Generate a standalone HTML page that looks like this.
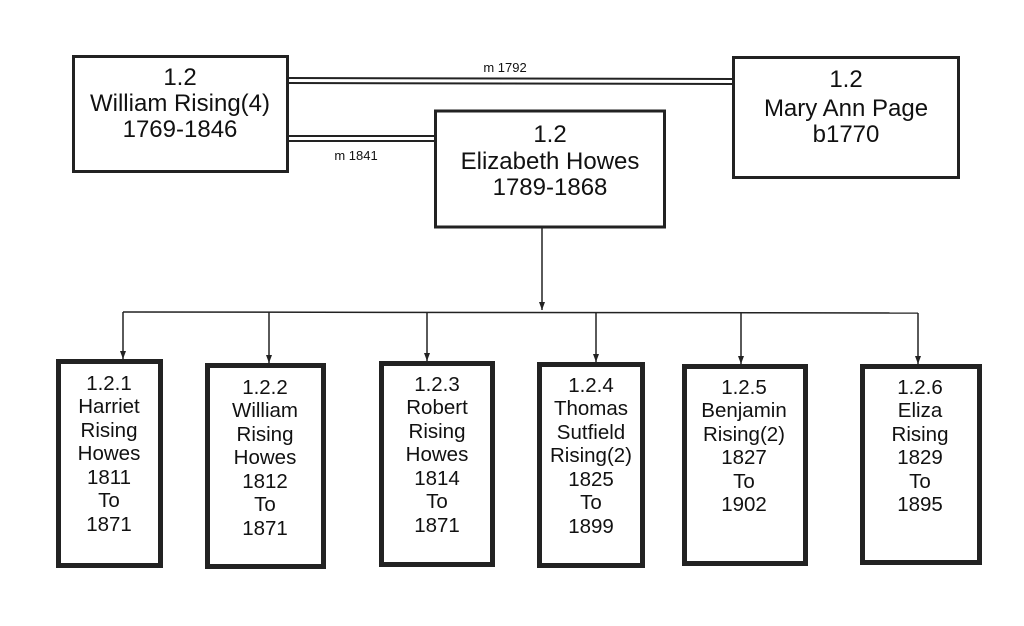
<!DOCTYPE html>
<html><head><meta charset="utf-8"><style>
html,body{margin:0;padding:0;background:#fff;}
svg{display:block;}
text{font-family:"Liberation Sans",Arial,sans-serif;fill:#111;text-anchor:middle;}
</style></head><body>
<svg width="1024" height="626" viewBox="0 0 1024 626" xmlns="http://www.w3.org/2000/svg">
<defs><marker id="a" markerWidth="9" markerHeight="8" refX="8" refY="4" orient="auto" markerUnits="userSpaceOnUse"><path d="M0,1 L8,4 L0,7 Z" fill="#222"/></marker></defs>
<g stroke="#222" fill="none">
<line x1="288" y1="78" x2="733" y2="79" stroke-width="2"/>
<line x1="288" y1="83" x2="733" y2="84" stroke-width="2"/>
<line x1="288" y1="136" x2="435" y2="136" stroke-width="2"/>
<line x1="288" y1="141" x2="435" y2="141" stroke-width="2"/>
<rect x="73.5" y="56.5" width="214" height="115" stroke-width="3"/>
<rect x="733.5" y="57.5" width="225" height="120" stroke-width="3"/>
<rect x="435.5" y="111" width="229" height="116" stroke-width="3"/>
<line x1="542" y1="228" x2="542" y2="310" stroke-width="1.5" marker-end="url(#a)"/>
<line x1="123" y1="312" x2="918" y2="313" stroke-width="1.5"/>
<line x1="123" y1="312" x2="123" y2="359" stroke-width="1.5" marker-end="url(#a)"/>
<line x1="269" y1="312" x2="269" y2="363" stroke-width="1.5" marker-end="url(#a)"/>
<line x1="427" y1="312" x2="427" y2="361" stroke-width="1.5" marker-end="url(#a)"/>
<line x1="596" y1="312" x2="596" y2="362" stroke-width="1.5" marker-end="url(#a)"/>
<line x1="741" y1="313" x2="741" y2="364" stroke-width="1.5" marker-end="url(#a)"/>
<line x1="918" y1="313" x2="918" y2="364" stroke-width="1.5" marker-end="url(#a)"/>
<rect x="58.5" y="361.5" width="102" height="204" stroke-width="5"/>
<rect x="207.5" y="365.5" width="116" height="201" stroke-width="5"/>
<rect x="381.5" y="363.5" width="111" height="201" stroke-width="5"/>
<rect x="539.5" y="364.5" width="103" height="201" stroke-width="5"/>
<rect x="684.5" y="366.5" width="121" height="197" stroke-width="5"/>
<rect x="862.5" y="366.5" width="117" height="196" stroke-width="5"/>
</g>
<g font-size="24">
<text x="180" y="85">1.2</text><text x="180" y="111">William Rising(4)</text><text x="180" y="137">1769-1846</text>
<text x="846" y="87">1.2</text><text x="846" y="116">Mary Ann Page</text><text x="846" y="142">b1770</text>
<text x="550" y="142">1.2</text><text x="550" y="169">Elizabeth Howes</text><text x="550" y="195">1789-1868</text>
</g>
<text x="505" y="72" font-size="13">m 1792</text>
<text x="356" y="160" font-size="13">m 1841</text>
<g font-size="20.5">
<text x="109" y="390">1.2.1</text><text x="109" y="413">Harriet</text><text x="109" y="437">Rising</text><text x="109" y="460">Howes</text><text x="109" y="484">1811</text><text x="109" y="507">To</text><text x="109" y="531">1871</text>
<text x="265" y="394">1.2.2</text><text x="265" y="417">William</text><text x="265" y="441">Rising</text><text x="265" y="464">Howes</text><text x="265" y="488">1812</text><text x="265" y="511">To</text><text x="265" y="535">1871</text>
<text x="437" y="391">1.2.3</text><text x="437" y="414">Robert</text><text x="437" y="438">Rising</text><text x="437" y="461">Howes</text><text x="437" y="485">1814</text><text x="437" y="508">To</text><text x="437" y="532">1871</text>
<text x="591" y="392">1.2.4</text><text x="591" y="415">Thomas</text><text x="591" y="439">Sutfield</text><text x="591" y="462">Rising(2)</text><text x="591" y="486">1825</text><text x="591" y="509">To</text><text x="591" y="533">1899</text>
<text x="744" y="394">1.2.5</text><text x="744" y="417">Benjamin</text><text x="744" y="441">Rising(2)</text><text x="744" y="464">1827</text><text x="744" y="488">To</text><text x="744" y="511">1902</text>
<text x="920" y="394">1.2.6</text><text x="920" y="417">Eliza</text><text x="920" y="441">Rising</text><text x="920" y="464">1829</text><text x="920" y="488">To</text><text x="920" y="511">1895</text>
</g>
</svg>
</body></html>
